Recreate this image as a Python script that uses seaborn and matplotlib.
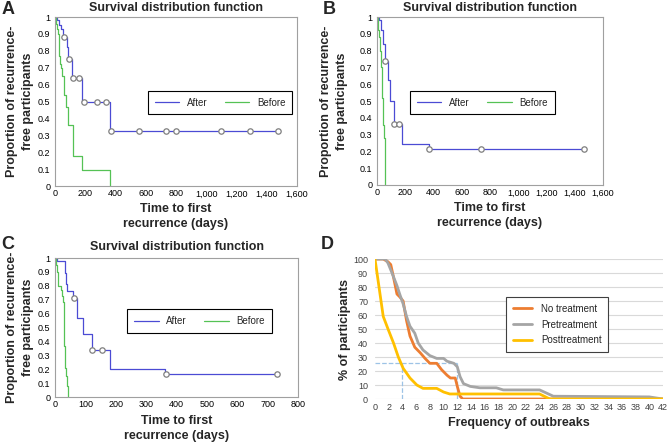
import pandas as pd
import seaborn as sns
import matplotlib.pyplot as plt
from matplotlib.lines import Line2D
from matplotlib.ticker import FuncFormatter, MultipleLocator

sns.set_style('white')
plt.rcParams['font.family'] = ['Liberation Sans', 'DejaVu Sans']

BLUE = '#4b4bd4'
GREEN = '#55c255'

# panel A
a_after_t = [0, 15, 25, 40, 50, 77, 88, 110, 176, 365, 1475]
a_after_s = [1, 0.98, 0.95, 0.93, 0.88, 0.82, 0.75, 0.637, 0.495, 0.327, 0.327]
a_cens_t = [62, 93, 122, 156, 189, 277, 337, 370, 558, 733, 799, 1099, 1287, 1475]
a_cens_s = [0.88, 0.75, 0.637, 0.637, 0.495, 0.495, 0.495,
            0.327, 0.327, 0.327, 0.327, 0.327, 0.327, 0.327]
a_before_t = [0, 8, 12, 22, 26, 28, 35, 42, 48, 60, 73, 88, 117, 176, 366]
a_before_s = [1, 0.96, 0.93, 0.90, 0.84, 0.77, 0.72, 0.70, 0.65, 0.54, 0.47,
              0.36, 0.18, 0.097, 0]

# panel B
b_after_t = [0, 15, 30, 40, 55, 75, 92, 118, 179, 365, 1468]
b_after_s = [1, 0.98, 0.92, 0.84, 0.74, 0.625, 0.50, 0.363, 0.242, 0.216, 0.216]
b_cens_t = [57, 123, 158, 370, 734, 1468]
b_cens_s = [0.74, 0.363, 0.363, 0.216, 0.216, 0.216]
b_before_t = [0, 5, 10, 15, 20, 24, 28, 31, 34, 36, 38, 40, 42, 45, 48, 52, 55, 59]
b_before_s = [1, 0.96, 0.92, 0.88, 0.84, 0.80, 0.76, 0.70, 0.64, 0.58, 0.52,
              0.46, 0.40, 0.36, 0.32, 0.28, 0.24, 0]

# panel C
c_after_t = [0, 8, 33, 36, 39, 60, 71, 91, 121, 181, 362, 730]
c_after_s = [1, 0.975, 0.89, 0.81, 0.76, 0.71, 0.565, 0.455, 0.34, 0.20, 0.167, 0.167]
c_cens_t = [63, 123, 154, 366, 730]
c_cens_s = [0.71, 0.34, 0.34, 0.167, 0.167]
c_before_t = [0, 3, 6, 9, 11, 20, 24, 27, 28, 29, 30, 31, 33, 34, 36, 38, 44]
c_before_s = [1, 0.95, 0.90, 0.85, 0.80, 0.77, 0.73, 0.68, 0.60, 0.52, 0.44,
              0.37, 0.29, 0.21, 0.15, 0.08, 0]

# panel D
no_x = [0, 1.2, 1.9, 2.3, 2.7, 3.2, 3.6, 4.1, 4.6, 5.1, 5.8, 6.6, 7.3, 8.0, 9.0,
        9.7, 10.5, 11.0, 11.7, 12.0, 12.4, 12.8, 42]
no_y = [100, 100, 98, 96, 87, 75, 73, 70, 56, 45, 37, 33, 29, 25.5, 25.5,
        21, 17, 15, 15, 9, 2, 0, 0]
pre_x = [0, 1.5, 1.9, 2.4, 3.2, 3.6, 4.1, 4.6, 5.1, 5.8, 6.3, 7.0, 8.0, 9.0, 10.0,
         10.5, 11.5, 12.0, 12.4, 12.9, 13.9, 15.3, 17.7, 18.7, 24.0, 26.0, 40.0, 42.0]
pre_y = [100, 100, 97, 91, 81, 75, 68, 59, 52, 47, 40, 35, 31, 29, 29,
         27, 25.5, 23, 16, 11, 9, 8, 8, 6.5, 6.5, 2, 1.5, 0]
post_x = [0, 1.2, 1.9, 2.7, 3.4, 4.1, 5.1, 6.1, 7.0, 9.0, 10.0, 10.9, 12.6, 24.0, 25.5, 42]
post_y = [100, 59, 50, 40, 30, 22, 15, 10, 7.6, 7.6, 5, 3.6, 3.6, 3.6, 0, 0]


def survival_panel(ax, after_t, after_s, before_t, before_s, cens_t, cens_s,
                   xmax, xstep, leg_xy, ylab_x, xlab_y, title_pad):
    df = pd.concat([
        pd.DataFrame({'t': after_t, 's': after_s, 'group': 'After'}),
        pd.DataFrame({'t': before_t, 's': before_s, 'group': 'Before'}),
    ])
    sns.lineplot(data=df, x='t', y='s', hue='group', hue_order=['After', 'Before'],
                 palette={'After': BLUE, 'Before': GREEN}, drawstyle='steps-post',
                 estimator=None, sort=False, lw=0.9, legend=False, ax=ax)
    cens = pd.DataFrame({'t': cens_t, 's': cens_s})
    sns.scatterplot(data=cens, x='t', y='s', marker='o', s=15, color='white',
                    edgecolor='#7f7f7f', linewidth=0.9, zorder=3, ax=ax)
    ax.set_xlim(0, xmax)
    ax.set_ylim(0, 1)
    ax.xaxis.set_major_locator(MultipleLocator(xstep))
    ax.yaxis.set_major_locator(MultipleLocator(0.1))
    ax.xaxis.set_major_formatter(FuncFormatter(lambda v, p: f'{v:,.0f}'))
    ax.yaxis.set_major_formatter(FuncFormatter(lambda v, p: f'{v:.1f}'.rstrip('0').rstrip('.') if v else '0'))
    ax.tick_params(direction='in', length=2.5, width=0.6, color='#808080',
                   labelsize=6.5, labelcolor='black')
    ax.tick_params(axis='x', pad=2.5)
    ax.tick_params(axis='y', pad=3.5)
    for sp in ax.spines.values():
        sp.set_color('#a0a0a0')
        sp.set_linewidth(0.8)
    ax.set_title('Survival distribution function', fontsize=9, fontweight='bold',
                 pad=title_pad)
    ax.set_xlabel('Time to first\nrecurrence (days)', fontsize=9, fontweight='bold',
                  linespacing=1.35)
    ax.set_ylabel('Proportion of recurrence-\nfree participants', fontsize=9,
                  fontweight='bold', linespacing=1.4)
    ax.xaxis.set_label_coords(0.5, xlab_y)
    ax.yaxis.set_label_coords(ylab_x, 0.5)
    handles = [Line2D([], [], color=BLUE, lw=0.9), Line2D([], [], color=GREEN, lw=0.9)]
    leg = ax.legend(handles, ['After', 'Before'], ncol=2, loc='center',
                    bbox_to_anchor=leg_xy, fontsize=7, frameon=True, fancybox=False,
                    edgecolor='black', framealpha=1, handlelength=2.5,
                    columnspacing=1.8, borderpad=0.7, handletextpad=0.8)
    leg.get_frame().set_linewidth(0.8)


fig = plt.figure(figsize=(6.70, 4.43), dpi=100)
axA = fig.add_axes([0.0821, 0.5801, 0.3612, 0.3815])
axB = fig.add_axes([0.5627, 0.5824, 0.3373, 0.3792])
axC = fig.add_axes([0.0821, 0.1038, 0.3627, 0.3138])
axD = fig.add_axes([0.5597, 0.0993, 0.4299, 0.3160])

survival_panel(axA, a_after_t, a_after_s, a_before_t, a_before_s, a_cens_t, a_cens_s,
               1600, 200, (0.682, 0.494), -0.088, -0.100, 4)
survival_panel(axB, b_after_t, b_after_s, b_before_t, b_before_s, b_cens_t, b_cens_s,
               1600, 200, (0.467, 0.491), -0.128, -0.100, 4)
survival_panel(axC, c_after_t, c_after_s, c_before_t, c_before_s, c_cens_t, c_cens_s,
               800, 100, (0.595, 0.547), -0.088, -0.128, 6)

# panel D
ORANGE = '#ed7d31'
GREY = '#a5a5a5'
YELLOW = '#ffc000'
df_d = pd.concat([
    pd.DataFrame({'x': no_x, 'y': no_y, 'group': 'No treatment'}),
    pd.DataFrame({'x': pre_x, 'y': pre_y, 'group': 'Pretreatment'}),
    pd.DataFrame({'x': post_x, 'y': post_y, 'group': 'Posttreatment'}),
])
axD.plot([0, 12], [25.5, 25.5], ls='--', color='#9dc3e6', lw=0.9)
axD.plot([4, 4], [0, 25.5], ls='--', color='#9dc3e6', lw=0.9)
axD.plot([12, 12], [0, 25.5], ls='--', color='#9dc3e6', lw=0.9)
sns.lineplot(data=df_d, x='x', y='y', hue='group',
             hue_order=['No treatment', 'Pretreatment', 'Posttreatment'],
             palette={'No treatment': ORANGE, 'Pretreatment': GREY, 'Posttreatment': YELLOW},
             estimator=None, sort=False, lw=2.0, legend=False, ax=axD)
axD.set_xlim(0, 42)
axD.set_ylim(0, 100)
axD.xaxis.set_major_locator(MultipleLocator(2))
axD.yaxis.set_major_locator(MultipleLocator(10))
axD.grid(axis='y', color='#d9d9d9', lw=0.8)
axD.set_axisbelow(True)
for sp in axD.spines.values():
    sp.set_visible(False)
axD.tick_params(length=0, labelsize=6.5, labelcolor='#404040')
axD.tick_params(axis='x', pad=3)
axD.tick_params(axis='y', pad=5)
axD.set_xlabel('Frequency of outbreaks', fontsize=9, fontweight='bold')
axD.set_ylabel('% of participants', fontsize=9, fontweight='bold')
axD.xaxis.set_label_coords(0.5, -0.13)
axD.yaxis.set_label_coords(-0.085, 0.5)
hd = [Line2D([], [], color=c, lw=2.0) for c in (ORANGE, GREY, YELLOW)]
legD = axD.legend(hd, ['No treatment', 'Pretreatment', 'Posttreatment'], loc='center',
                  bbox_to_anchor=(0.632, 0.532), fontsize=7, frameon=True, fancybox=False,
                  edgecolor='#404040', framealpha=1, handlelength=2.0,
                  borderpad=0.7, labelspacing=0.6, handletextpad=0.9)
legD.get_frame().set_linewidth(0.8)

for lab, x, y in [('A', 0.002, 0.998), ('B', 0.481, 0.998),
                  ('C', 0.002, 0.468), ('D', 0.479, 0.468)]:
    fig.text(x, y, lab, fontsize=13, fontweight='bold', ha='left', va='top')

fig.savefig('out.png', dpi=100)
